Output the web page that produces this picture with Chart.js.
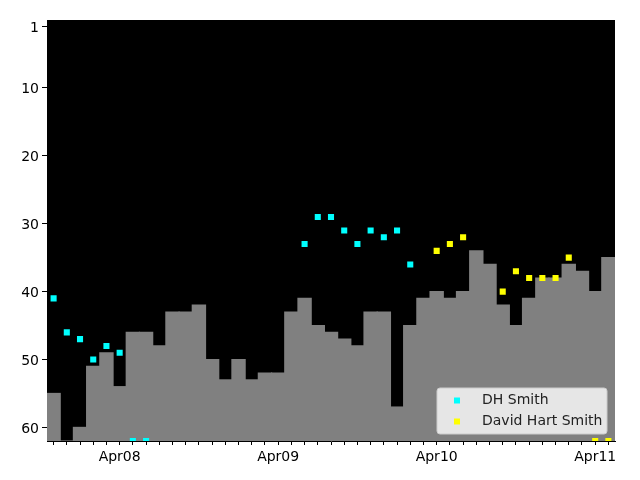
<!DOCTYPE html>
<html>
<head>
<meta charset="utf-8">
<script src="https://cdn.jsdelivr.net/npm/chart.js@4.4.1/dist/chart.umd.min.js"></script>
<style>
  html, body { margin: 0; padding: 0; background: #fff; }
</style>
</head>
<body>
<canvas id="chart" width="640" height="480"></canvas>
<script>
// two-hour bins, Apr07 14h .. Apr11 02h
const bins = [
  "Apr07 14h", "Apr07 16h", "Apr07 18h", "Apr07 20h", "Apr07 22h",
  "Apr08 00h", "Apr08 02h", "Apr08 04h", "Apr08 06h", "Apr08 08h", "Apr08 10h",
  "Apr08 12h", "Apr08 14h", "Apr08 16h", "Apr08 18h", "Apr08 20h", "Apr08 22h",
  "Apr09 00h", "Apr09 02h", "Apr09 04h", "Apr09 06h", "Apr09 08h", "Apr09 10h",
  "Apr09 12h", "Apr09 14h", "Apr09 16h", "Apr09 18h", "Apr09 20h", "Apr09 22h",
  "Apr10 00h", "Apr10 02h", "Apr10 04h", "Apr10 06h", "Apr10 08h", "Apr10 10h",
  "Apr10 12h", "Apr10 14h", "Apr10 16h", "Apr10 18h", "Apr10 20h", "Apr10 22h",
  "Apr11 00h", "Apr11 02h",
];

// best rank in each bin (gray area); 62 = off the chart
const bestRank = [
  55, 62, 60, 51, 49, 54, 46, 46, 48, 43, 43, 42, 50, 53, 50, 53, 52, 52,
  43, 41, 45, 46, 47, 48, 43, 43, 57, 45, 41, 40, 41, 40, 34, 36, 42, 45,
  41, 38, 38, 36, 37, 40, 35,
];

const dhSmith = [
  41, 46, 47, 50, 48, 49, 62, 62, null, null, null, null, null, null, null, null, null, null,
  null, 33, 29, 29, 31, 33, 31, 32, 31, 36, null, null, null, null, null, null, null, null,
  null, null, null, null, null, null, null,
];

const davidHartSmith = [
  null, null, null, null, null, null, null, null, null, null, null, null, null, null, null, null, null, null,
  null, null, null, null, null, null, null, null, null, null, null, 34, 33, 32, null, null, 40, 37,
  38, 38, 38, 35, null, 62, 62,
];

const yTicks = [1, 10, 20, 30, 40, 50, 60];

const FONT = { family: "'DejaVu Sans', sans-serif", size: 14 };

const plotBackground = {
  id: "plotBackground",
  beforeDraw(chart) {
    const { ctx, chartArea: a } = chart;
    ctx.save();
    ctx.fillStyle = "#000";
    ctx.fillRect(a.left, a.top, a.right - a.left, a.bottom - a.top);
    ctx.restore();
  },
};

// matplotlib-style legend sitting inside the lower right of the plot
const insideLegend = {
  id: "insideLegend",
  afterDraw(chart) {
    const { ctx, chartArea: a } = chart;
    const items = chart.data.datasets.filter((d) => d.type === "line");
    const w = 170, h = 46;
    const x = a.right - 8 - w, y = a.bottom - 7 - h;
    ctx.save();
    ctx.beginPath();
    ctx.roundRect(x, y, w, h, 3);
    ctx.fillStyle = "rgba(255,255,255,0.8)";
    ctx.fill();
    ctx.strokeStyle = "#cccccc";
    ctx.lineWidth = 1;
    ctx.stroke();
    ctx.font = `${FONT.size}px ${FONT.family}`;
    ctx.textBaseline = "middle";
    items.forEach((d, i) => {
      const cy = y + 12.5 + i * 21;
      ctx.fillStyle = d.pointBackgroundColor;
      ctx.fillRect(x + 17, cy - 3, 6, 6);
      ctx.fillStyle = "#222";
      ctx.fillText(d.label, x + 45, cy);
    });
    ctx.restore();
  },
};

new Chart(document.getElementById("chart"), {
  type: "bar",
  data: {
    labels: bins,
    datasets: [
      {
        type: "line",
        label: "DH Smith",
        data: dhSmith,
        showLine: false,
        pointStyle: "rect",
        pointRadius: 4.3,
        pointBorderWidth: 0,
        pointBackgroundColor: "#00ffff",
        order: 1,
      },
      {
        type: "line",
        label: "David Hart Smith",
        data: davidHartSmith,
        showLine: false,
        pointStyle: "rect",
        pointRadius: 4.3,
        pointBorderWidth: 0,
        pointBackgroundColor: "#ffff00",
        order: 1,
      },
      {
        label: "best",
        data: bestRank,
        base: 62,
        backgroundColor: "#808080",
        borderWidth: 0,
        inflateAmount: 0.6,
        barPercentage: 1,
        categoryPercentage: 1,
        order: 2,
      },
    ],
  },
  options: {
    responsive: false,
    animation: false,
    layout: { padding: { top: 20, right: 25, left: 0, bottom: 0 } },
    plugins: {
      legend: { display: false },
      tooltip: { enabled: false },
    },
    scales: {
      x: {
        offset: true,
        grid: { offset: false, drawOnChartArea: false, drawTicks: true, tickLength: 4, tickColor: "#000" },
        border: { color: "#000" },
        ticks: {
          autoSkip: false,
          maxRotation: 0,
          color: "#000",
          font: FONT,
          padding: 4,
          callback(value) {
            const lab = this.getLabelForValue(value);
            return lab.endsWith(" 00h") ? lab.slice(0, 5) : "";
          },
        },
        afterFit(scale) { scale.height = 39; },
      },
      y: {
        min: 0,
        max: 62,
        reverse: true,
        grid: { drawOnChartArea: false, drawTicks: true, tickLength: 5, tickColor: "#000" },
        border: { color: "#000" },
        ticks: { color: "#000", font: FONT, padding: 3, labelOffset: 1.5 },
        afterBuildTicks(scale) { scale.ticks = yTicks.map((v) => ({ value: v })); },
        afterFit(scale) { scale.width = 47; },
      },
    },
  },
  plugins: [plotBackground, insideLegend],
});
</script>
</body>
</html>
